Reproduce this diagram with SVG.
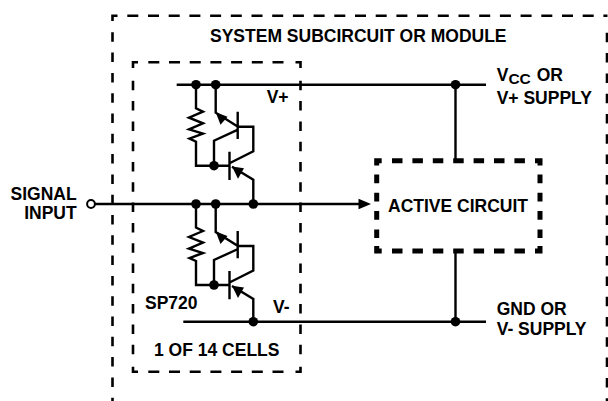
<svg xmlns="http://www.w3.org/2000/svg" width="608" height="401" viewBox="0 0 608 401">
<style>
text{font-family:"Liberation Sans",Arial,sans-serif;font-weight:700;font-size:17.5px;fill:#000}
.w{fill:none;stroke:#000;stroke-width:2.4;stroke-linejoin:miter}
.o{fill:none;stroke:#000;stroke-width:2.6}
.oh{stroke-dasharray:11 9.7}
.ov{stroke-dasharray:9.5 10.8}
.a{fill:none;stroke:#000;stroke-width:5}
.ah{stroke-dasharray:10.5 9.9}
.av{stroke-dasharray:8.7 9.6}
.d{fill:#000}
.h{fill:#000;stroke:none}
</style>
<defs>
<circle id="dot" class="d" r="4.8"/>
<g id="cell">
<path class="w" d="M0 0V23.500L7 27 -7 33 7 38.600 -7 44.600 7 49 -6.500 54 0 57V81H18"/>
<path class="w" d="M19.700 0V28L42 42M41.700 27V54.300M42 42H57.300V66.500L33.500 78.500M33.500 67V95.300M33.500 81H18V56L42 45M36 82L57.300 95V119"/>
<path class="h" d="M19.700 27.500L31.500 32 24.500 40Z"/>
<path class="h" d="M36 81.800L48 83.500 42 94Z"/>
<use href="#dot" x="18" y="81"/>
</g>
</defs>
<g id="connectors">
<path class="w" d="M94.500 204H360"/>
<path class="w" d="M176.700 84.700H486"/>
<path class="w" d="M183.300 321.700H486"/>
<path class="w" d="M455.500 84.700V160M455.500 252V321.700"/>
<path class="h" d="M371 204L358.500 198.800V209.200Z"/>
<use href="#dot" x="196" y="84.700"/>
<use href="#dot" x="215.700" y="84.700"/>
<use href="#dot" x="455.500" y="84.700"/>
<use href="#dot" x="196" y="204"/>
<use href="#dot" x="215.700" y="204"/>
<use href="#dot" x="253.300" y="204"/>
<use href="#dot" x="253.300" y="321.700"/>
<use href="#dot" x="455.500" y="321.700"/>
</g>
<g id="system-box">
<path class="o" d="M112.500 21V15.700H117.500"/>
<path class="o oh" d="M127.300 15.700H607.500"/>
<path class="o ov" d="M112.500 32.300V401"/>
<path class="o ov" d="M607 32.800V401"/>
<text x="210" y="42">SYSTEM SUBCIRCUIT OR MODULE</text>
</g>
<g id="cell-box">
<path class="o" d="M133 68V62.300H138M295.500 62.300H300.500V68M133 366.700V371.700H138M295.500 371.700H300.500V366.700"/>
<path class="o oh" d="M148.300 62.300H290M148.300 371.700H290"/>
<path class="o ov" d="M133 80.800V362M300.500 80.800V362"/>
<text x="145" y="309">SP720</text>
<text x="154" y="355.700">1 OF 14 CELLS</text>
<text x="266.700" y="103">V+</text>
<text x="273" y="312.700">V-</text>
</g>
<g id="clamp-upper"><use href="#cell" x="196" y="84.700"/></g>
<g id="clamp-lower"><use href="#cell" x="196" y="204"/></g>
<g id="signal-input">
<circle cx="91" cy="204" r="3.900" fill="#fff" stroke="#000" stroke-width="2"/>
<text x="76.700" y="200" text-anchor="end">SIGNAL</text>
<text x="76.700" y="219" text-anchor="end">INPUT</text>
</g>
<g id="active-circuit">
<path class="a" d="M376.700 165.500V160.700H381.700M535 160.700H540V165.500M376.700 246V251H381.700M535 251H540V246"/>
<path class="a ah" d="M392 160.700H530M392 251H530"/>
<path class="a av" d="M376.700 174.500V238M540 174.500V238"/>
<text x="388" y="212.300">ACTIVE CIRCUIT</text>
</g>
<g id="vcc-label">
<text x="496.700" y="80.700">V<tspan font-size="15.500" dy="3.500">CC</tspan><tspan x="536.700" dy="-3.500">OR</tspan></text>
<text x="496.700" y="104">V+ SUPPLY</text>
</g>
<g id="gnd-label">
<text x="496.700" y="315">GND OR</text>
<text x="496.700" y="335">V- SUPPLY</text>
</g>
</svg>
